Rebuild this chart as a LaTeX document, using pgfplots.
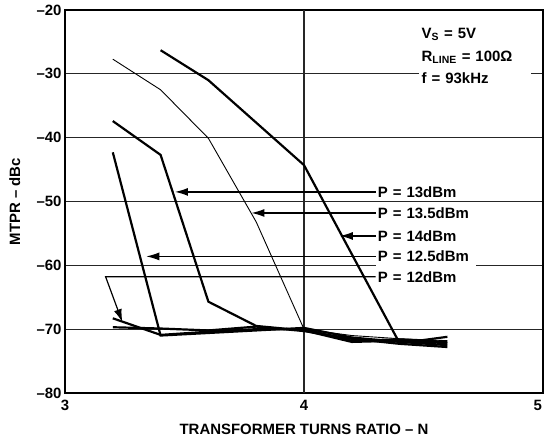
\documentclass[border=0pt]{standalone}
\usepackage{fontspec}
\setmainfont{Liberation Sans}
\usepackage{pgfplots}
\pgfplotsset{compat=1.18}
\usetikzlibrary{arrows.meta}

\begin{document}
\begin{tikzpicture}[font=\fontsize{15}{18}\selectfont\bfseries]
\begin{axis}[
  scale only axis, width=478bp, height=383bp,
  xmin=3, xmax=5, ymin=-80, ymax=-20,
  xtick={3,5}, xticklabels={3,\llap{5\hspace{1bp}}},
  extra x ticks={4}, extra x tick labels={4},
  extra x tick style={grid=major},
  ytick={-80,-70,...,-20},
  yticklabels={--80,--70,--60,--50,--40,--30,--20},
  ymajorgrids,
  major grid style={black!85, line width=1.2pt},
  major tick length=0pt,
  axis line style={line width=2pt},
  every tick label/.append style={font=\fontsize{15}{18}\selectfont\bfseries},
  xticklabel style={yshift=-4bp},
  xlabel={TRANSFORMER TURNS RATIO -- N},
  ylabel={MTPR -- dBc},
  xlabel style={at={(axis description cs:0.5,-0.094)}, anchor=center},
  ylabel style={at={(axis description cs:-0.105,0.5)}, anchor=center},
]
% P = 14dBm
\addplot[black, line width=2.2pt] coordinates {
  (3.4,-26.3) (3.6,-31.0) (4.0,-44.3) (4.4,-72.2) (4.6,-71.2)};
% P = 13.5dBm
\addplot[black, line width=0.9pt] coordinates {
  (3.2,-27.7) (3.4,-32.5) (3.6,-40.1) (3.8,-53.2) (4.0,-70.0)
  (4.2,-71.0) (4.4,-71.5) (4.6,-71.8)};
% P = 13dBm
\addplot[black, line width=2.2pt] coordinates {
  (3.2,-37.4) (3.4,-42.7) (3.6,-65.7) (3.8,-69.5) (4.0,-70.2)
  (4.2,-72.0) (4.4,-71.8) (4.6,-72.2)};
% P = 12.5dBm
\addplot[black, line width=2.2pt] coordinates {
  (3.2,-42.3) (3.4,-71.0) (3.6,-70.6) (3.8,-70.2) (4.0,-69.8)
  (4.2,-71.3) (4.4,-72.0) (4.6,-72.5)};
% P = 12dBm
\addplot[black, line width=2.2pt] coordinates {
  (3.2,-68.3) (3.4,-70.9) (3.6,-70.4) (3.8,-70.0) (4.0,-70.0)
  (4.2,-71.8) (4.4,-71.6) (4.6,-72.0)};
\addplot[black, line width=2.2pt] coordinates {
  (3.2,-69.7) (3.4,-69.9) (3.6,-70.2) (3.8,-69.6) (4.0,-70.3)
  (4.2,-71.5) (4.4,-72.3) (4.6,-72.8)};

\tikzset{lab/.style={fill=white, anchor=west, inner xsep=2bp, inner ysep=4bp,
  text width=96bp, align=left},
  arr/.style={line width=1.2pt, -{Latex[length=13bp,width=8bp]}}}
\node[lab] (a) at (axis cs:4.3,-48.5) {P = 13dBm};
\node[lab] (b) at (axis cs:4.3,-51.8) {P = 13.5dBm};
\node[lab] (c) at (axis cs:4.3,-55.4) {P = 14dBm};
\node[lab] (d) at (axis cs:4.3,-58.6) {P = 12.5dBm};
\node[lab] (e) at (axis cs:4.3,-61.8) {P = 12dBm};
\draw[arr] (a.west) -- (axis cs:3.46,-48.5);
\draw[arr] (b.west) -- (axis cs:3.78,-51.8);
\draw[arr] (c.west) -- (axis cs:4.15,-55.4);
\draw[arr] (d.west) -- (axis cs:3.34,-58.6);
\draw[arr] (e.west) -- (axis cs:3.17,-61.8) -- (axis cs:3.24,-68.9);

\node[fill=white, anchor=north west, inner xsep=3bp, inner ysep=3bp,
  text width=106bp, align=left] at (axis cs:4.479,-22.3)
  {V\textsubscript{S} = 5V\\[5bp]
   R\textsubscript{LINE} = 100Ω\\[4bp]
   f = 93kHz};
\end{axis}
\pgfresetboundingbox
\useasboundingbox ([shift={(-65bp,-47bp)}]current axis.south west)
  rectangle ([shift={(1bp,10bp)}]current axis.north east);
\end{tikzpicture}
\end{document}
